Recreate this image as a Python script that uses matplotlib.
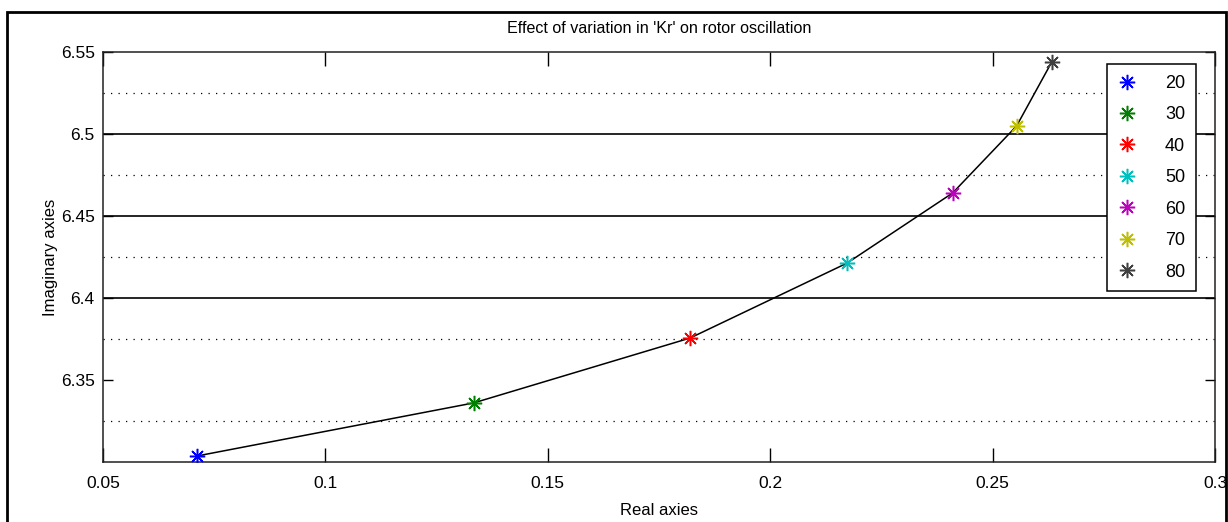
import matplotlib.pyplot as plt
from matplotlib.patches import Rectangle
from matplotlib.ticker import FormatStrFormatter

plt.rcParams['font.family'] = ['Liberation Sans', 'DejaVu Sans']

# Kr values and the resulting rotor mode eigenvalues
kr = [20, 30, 40, 50, 60, 70, 80]
real_part = [0.0712, 0.1333, 0.1820, 0.2173, 0.2410, 0.2554, 0.2633]
imag_part = [6.3037, 6.3360, 6.3756, 6.4213, 6.4640, 6.5049, 6.5439]
colors = ['#0000ff', '#008000', '#ff0000', '#00bfbf', '#bf00bf', '#bfbf00', '#404040']

fig = plt.figure(figsize=(12.28, 5.22), dpi=100)
ax = fig.add_axes([103 / 1228, 1 - 462 / 522, 1112 / 1228, 410 / 522])

# reference lines
for y in [6.4, 6.45, 6.5]:
    ax.axhline(y, color='black', lw=1.2, zorder=1)
for y in [6.325, 6.375, 6.425, 6.475, 6.525]:
    ax.axhline(y, color='black', lw=0.9, ls=(0, (1, 5)), zorder=1)

ax.plot(real_part, imag_part, color='black', lw=1.1, zorder=2)
for x, y, c, k in zip(real_part, imag_part, colors, kr):
    ax.plot(x, y, ls='none', marker=(8, 2, 0), ms=11, mew=1.1, color=c,
            label=str(k), zorder=3)

ax.set_xlim(0.05, 0.3)
ax.set_ylim(6.30, 6.55)
ax.set_xticks([0.05, 0.1, 0.15, 0.2, 0.25, 0.3])
ax.set_yticks([6.35, 6.4, 6.45, 6.5, 6.55])
ax.xaxis.set_major_formatter(FormatStrFormatter('%g'))
ax.yaxis.set_major_formatter(FormatStrFormatter('%g'))
ax.tick_params(axis='x', direction='in', length=10, width=1, top=True,
               labelsize=12.5, pad=10)
ax.tick_params(axis='y', direction='in', length=7, width=1, right=True,
               labelsize=12.5, pad=6)
for s in ax.spines.values():
    s.set_linewidth(1.1)
    s.set_color('#202020')

ax.set_title("Effect of variation in 'Kr' on rotor oscillation", fontsize=11.6, pad=14)
ax.set_xlabel('Real axies', fontsize=12, labelpad=9)
ax.set_ylabel('Imaginary axies', fontsize=12, labelpad=2)

leg = ax.legend(loc='upper right', bbox_to_anchor=(1 - 19 / 1112, 1 - 12 / 410),
                fontsize=13, frameon=True, fancybox=False, handlelength=1.0,
                handletextpad=1.6, labelspacing=0.8, borderpad=0.6,
                borderaxespad=0)
leg.get_frame().set_edgecolor('black')
leg.get_frame().set_linewidth(1.1)
leg.get_frame().set_alpha(1)

# outer frame around the figure
fig.patches.append(Rectangle((7 / 1228, -0.05), 1219 / 1228, 1 - 12 / 522 + 0.05,
                             transform=fig.transFigure, fill=False,
                             edgecolor='black', lw=2))

fig.savefig('out.png', dpi=100)
